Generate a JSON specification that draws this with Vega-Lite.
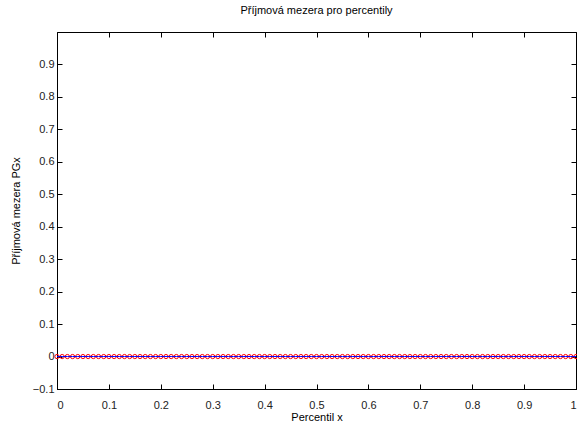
{
  "$schema": "https://vega.github.io/schema/vega-lite/v6.json",
  "width": 519,
  "height": 357,
  "autosize": {"type": "none"},
  "padding": {"left": 57, "top": 32, "right": 1, "bottom": 34},
  "background": "white",
  "title": {"text": "Příjmová mezera pro percentily", "font": "Liberation Sans", "fontSize": 11, "fontWeight": "normal", "color": "#000000", "offset": 16},
  "config": {
    "view": {"stroke": "#000000", "strokeWidth": 1},
    "axis": {"grid": false, "labelFont": "Liberation Sans", "labelFontSize": 11, "labelColor": "#222222", "titleFont": "Liberation Sans", "titleFontSize": 11, "titleFontWeight": "normal", "titleColor": "#000000", "domainColor": "#000000", "tickColor": "#000000", "tickSize": -5, "labelPadding": 8}
  },
  "data": {"values": [
    {"x": 0.00, "y": 0}, {"x": 0.01, "y": 0}, {"x": 0.02, "y": 0}, {"x": 0.03, "y": 0}, {"x": 0.04, "y": 0},
    {"x": 0.05, "y": 0}, {"x": 0.06, "y": 0}, {"x": 0.07, "y": 0}, {"x": 0.08, "y": 0}, {"x": 0.09, "y": 0},
    {"x": 0.10, "y": 0}, {"x": 0.11, "y": 0}, {"x": 0.12, "y": 0}, {"x": 0.13, "y": 0}, {"x": 0.14, "y": 0},
    {"x": 0.15, "y": 0}, {"x": 0.16, "y": 0}, {"x": 0.17, "y": 0}, {"x": 0.18, "y": 0}, {"x": 0.19, "y": 0},
    {"x": 0.20, "y": 0}, {"x": 0.21, "y": 0}, {"x": 0.22, "y": 0}, {"x": 0.23, "y": 0}, {"x": 0.24, "y": 0},
    {"x": 0.25, "y": 0}, {"x": 0.26, "y": 0}, {"x": 0.27, "y": 0}, {"x": 0.28, "y": 0}, {"x": 0.29, "y": 0},
    {"x": 0.30, "y": 0}, {"x": 0.31, "y": 0}, {"x": 0.32, "y": 0}, {"x": 0.33, "y": 0}, {"x": 0.34, "y": 0},
    {"x": 0.35, "y": 0}, {"x": 0.36, "y": 0}, {"x": 0.37, "y": 0}, {"x": 0.38, "y": 0}, {"x": 0.39, "y": 0},
    {"x": 0.40, "y": 0}, {"x": 0.41, "y": 0}, {"x": 0.42, "y": 0}, {"x": 0.43, "y": 0}, {"x": 0.44, "y": 0},
    {"x": 0.45, "y": 0}, {"x": 0.46, "y": 0}, {"x": 0.47, "y": 0}, {"x": 0.48, "y": 0}, {"x": 0.49, "y": 0},
    {"x": 0.50, "y": 0}, {"x": 0.51, "y": 0}, {"x": 0.52, "y": 0}, {"x": 0.53, "y": 0}, {"x": 0.54, "y": 0},
    {"x": 0.55, "y": 0}, {"x": 0.56, "y": 0}, {"x": 0.57, "y": 0}, {"x": 0.58, "y": 0}, {"x": 0.59, "y": 0},
    {"x": 0.60, "y": 0}, {"x": 0.61, "y": 0}, {"x": 0.62, "y": 0}, {"x": 0.63, "y": 0}, {"x": 0.64, "y": 0},
    {"x": 0.65, "y": 0}, {"x": 0.66, "y": 0}, {"x": 0.67, "y": 0}, {"x": 0.68, "y": 0}, {"x": 0.69, "y": 0},
    {"x": 0.70, "y": 0}, {"x": 0.71, "y": 0}, {"x": 0.72, "y": 0}, {"x": 0.73, "y": 0}, {"x": 0.74, "y": 0},
    {"x": 0.75, "y": 0}, {"x": 0.76, "y": 0}, {"x": 0.77, "y": 0}, {"x": 0.78, "y": 0}, {"x": 0.79, "y": 0},
    {"x": 0.80, "y": 0}, {"x": 0.81, "y": 0}, {"x": 0.82, "y": 0}, {"x": 0.83, "y": 0}, {"x": 0.84, "y": 0},
    {"x": 0.85, "y": 0}, {"x": 0.86, "y": 0}, {"x": 0.87, "y": 0}, {"x": 0.88, "y": 0}, {"x": 0.89, "y": 0},
    {"x": 0.90, "y": 0}, {"x": 0.91, "y": 0}, {"x": 0.92, "y": 0}, {"x": 0.93, "y": 0}, {"x": 0.94, "y": 0},
    {"x": 0.95, "y": 0}, {"x": 0.96, "y": 0}, {"x": 0.97, "y": 0}, {"x": 0.98, "y": 0}, {"x": 0.99, "y": 0},
    {"x": 1.00, "y": 0}
  ]},
  "layer": [
    {
      "mark": {"type": "point", "shape": "circle", "filled": false, "color": "#ff0000", "size": 18, "strokeWidth": 1, "opacity": 1},
      "encoding": {
        "x": {"field": "x", "type": "quantitative", "scale": {"domain": [0, 1], "nice": false, "zero": false},
              "axis": {"title": "Percentil x", "values": [0, 0.1, 0.2, 0.3, 0.4, 0.5, 0.6, 0.7, 0.8, 0.9, 1], "format": "~g", "labelPadding": 15, "titlePadding": 1}},
        "y": {"field": "y", "type": "quantitative", "scale": {"domain": [-0.1, 1.0], "nice": false, "zero": false},
              "axis": {"title": "Příjmová mezera PGx", "values": [-0.1, 0, 0.1, 0.2, 0.3, 0.4, 0.5, 0.6, 0.7, 0.8, 0.9], "format": "~g", "titlePadding": 11}}
      }
    },
    {
      "mark": {"type": "line", "color": "#0000ff", "strokeWidth": 1},
      "encoding": {
        "x": {"field": "x", "type": "quantitative", "axis": {"orient": "top", "labels": false, "title": null, "domain": false, "values": [0, 0.1, 0.2, 0.3, 0.4, 0.5, 0.6, 0.7, 0.8, 0.9, 1]}},
        "y": {"field": "y", "type": "quantitative", "axis": {"orient": "right", "labels": false, "title": null, "domain": false, "values": [-0.1, 0, 0.1, 0.2, 0.3, 0.4, 0.5, 0.6, 0.7, 0.8, 0.9, 1]}}
      }
    }
  ],
  "resolve": {"axis": {"x": "independent", "y": "independent"}}
}
